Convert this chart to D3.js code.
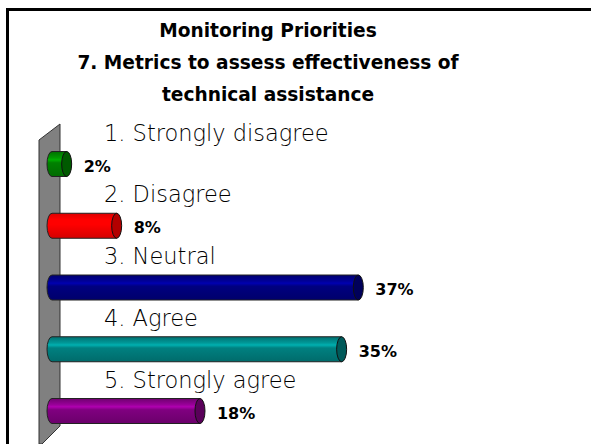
<!DOCTYPE html>
<html><head><meta charset="utf-8">
<script src="https://cdn.jsdelivr.net/npm/d3@7"></script>
<style>html,body{margin:0;padding:0;background:#fff;}svg{display:block;}</style>
</head><body>
<svg id="chart" width="591" height="444"></svg>
<script>
const titleLines = ["Monitoring Priorities", "7. Metrics to assess effectiveness of", "technical assistance"];
const categories = ["1. Strongly disagree", "2. Disagree", "3. Neutral", "4. Agree", "5. Strongly agree"];
const values = [2, 8, 37, 35, 18];
const valueLabels = ["2%", "8%", "37%", "35%", "18%"];
const colors = ["#008000", "#ff0000", "#000080", "#008080", "#800080"];

const svg = d3.select("#chart");
const W = 591, H = 444;
svg.append("rect").attr("width", W).attr("height", H).attr("fill", "#fff");

// frame
svg.append("rect").attr("x", 7.5).attr("y", 9.5).attr("width", 700).attr("height", 600)
  .attr("fill", "none").attr("stroke", "#000").attr("stroke-width", 3);

// title
svg.append("g").selectAll("text").data(titleLines).join("text")
  .attr("x", 268).attr("y", (d, i) => 37 + i * 32)
  .attr("text-anchor", "middle")
  .attr("font-family", "DejaVu Sans").attr("font-weight", "bold").attr("font-size", 18.6)
  .attr("fill", "#000").text(d => d);

const x = d3.scaleLinear().domain([0, 40]).range([50, 383.3]);
const y = d3.scalePoint().domain(categories).range([164, 411]);
const th = 25, rx = 5;

// wall
svg.append("path")
  .attr("d", "M39,140 L60,124 L60,426 L42,444 L39,444 Z")
  .attr("fill", "#808080").attr("stroke", "#333").attr("stroke-width", 1);

const defs = svg.append("defs");
colors.forEach((c, i) => {
  const g = defs.append("linearGradient").attr("id", "g" + i)
    .attr("x1", 0).attr("y1", 0).attr("x2", 0).attr("y2", 1);
  const base = d3.color(c);
  g.append("stop").attr("offset", "0%").attr("stop-color", base.darker(0.4));
  g.append("stop").attr("offset", "25%").attr("stop-color", base.brighter(0.5));
  g.append("stop").attr("offset", "33%").attr("stop-color", base.brighter(0.9));
  g.append("stop").attr("offset", "45%").attr("stop-color", base);
  g.append("stop").attr("offset", "100%").attr("stop-color", base.darker(0.5));
});

const bars = svg.append("g").selectAll("g").data(values).join("g");
bars.append("path")
  .attr("d", (d, i) => {
    const cy = y(categories[i]), t = cy - th / 2, b = cy + th / 2;
    const x0 = x(0) - 3, x1 = x(d);
    return `M${x0 + rx},${t} H${x1} V${b} H${x0 + rx} A${rx},${th / 2} 0 0 1 ${x0 + rx},${t} Z`;
  })
  .attr("fill", (d, i) => `url(#g${i})`)
  .attr("stroke", "#222").attr("stroke-width", 1);
bars.append("ellipse")
  .attr("cx", d => x(d)).attr("cy", (d, i) => y(categories[i]))
  .attr("rx", rx).attr("ry", th / 2)
  .attr("fill", (d, i) => d3.color(colors[i]).darker(1))
  .attr("stroke", "#111").attr("stroke-width", 1);

// category labels
svg.append("g").selectAll("text").data(categories).join("text")
  .attr("x", 104).attr("y", d => y(d) - th / 2 - 11)
  .attr("font-family", "DejaVu Sans").attr("font-weight", 200).attr("font-size", 22.5)
  .attr("fill", "#000").text(d => d);

// value labels
svg.append("g").selectAll("text").data(values).join("text")
  .attr("x", d => x(d) + 17).attr("y", (d, i) => y(categories[i]) + 2)
  .attr("dominant-baseline", "central")
  .attr("font-family", "DejaVu Sans").attr("font-weight", "bold").attr("font-size", 16)
  .attr("fill", "#000").text((d, i) => valueLabels[i]);
</script>
</body></html>
